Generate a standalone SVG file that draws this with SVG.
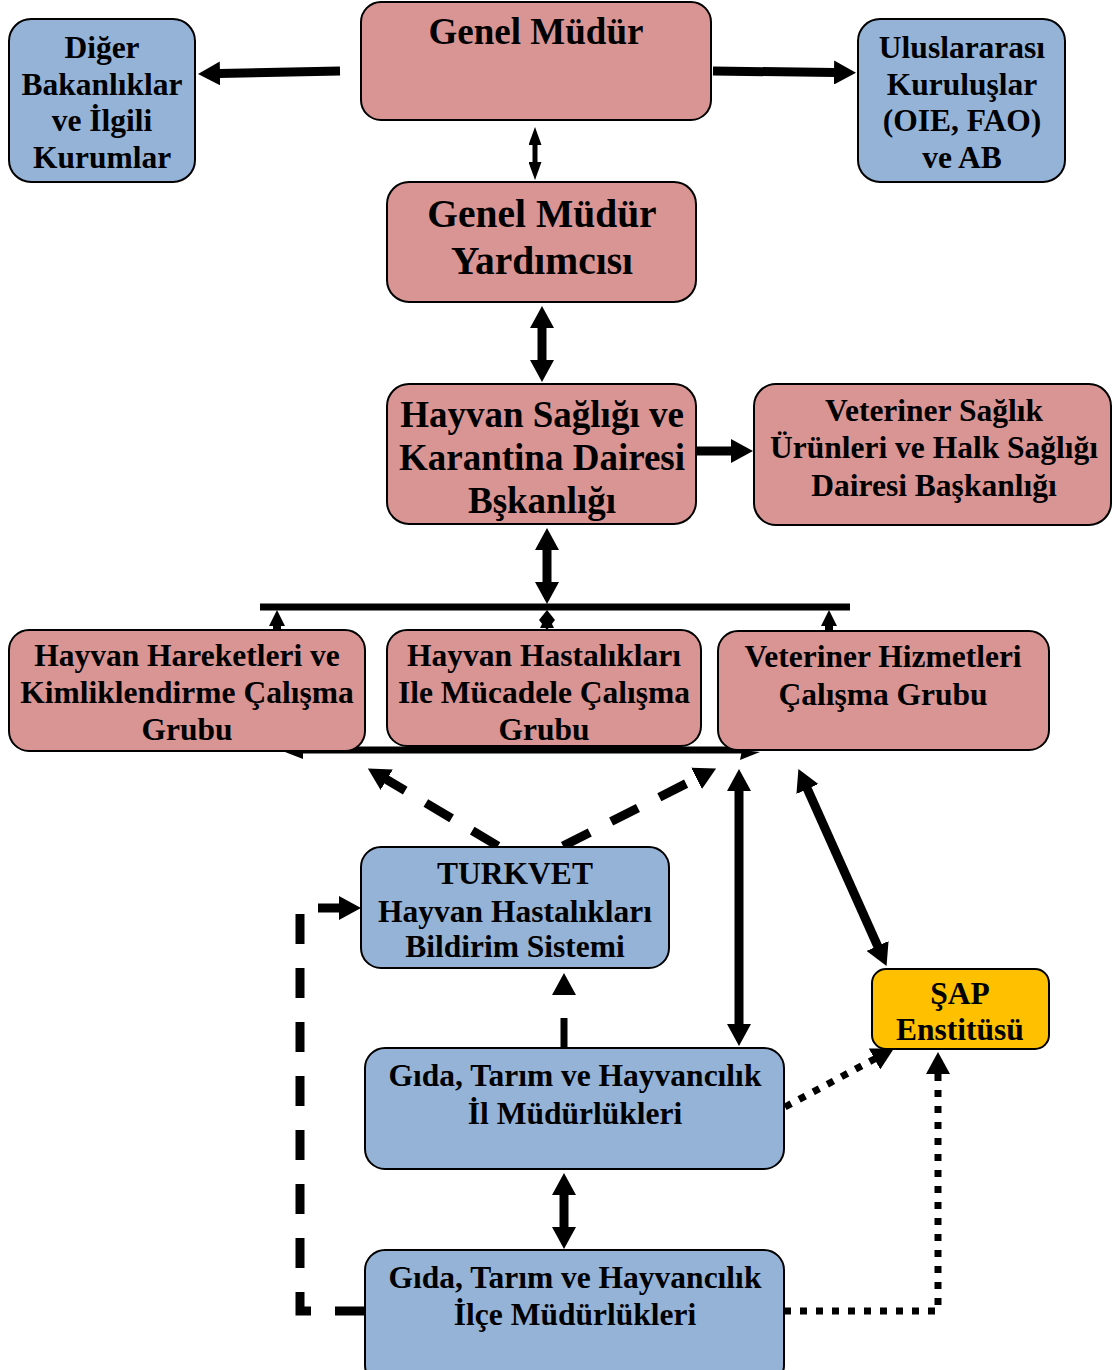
<svg xmlns="http://www.w3.org/2000/svg" width="1112" height="1370" viewBox="0 0 1112 1370">
<style>
.box{stroke:#000;stroke-width:2}
.pink{fill:#d99594}
.blue{fill:#95b3d7}
.yel{fill:#ffc000}
text{font-family:"Liberation Serif","Times New Roman",serif;font-weight:bold;fill:#000;text-anchor:middle}
.t31{font-size:31.5px}
.t37{font-size:37px}
.t39{font-size:39.5px}
.ln{stroke:#000;fill:none}
.w8{stroke-width:9}
.w7{stroke-width:7}
.dash{stroke-dasharray:30 24}
.dot{stroke-dasharray:7 9}
</style>
<defs>
<marker id="ah" markerUnits="userSpaceOnUse" viewBox="0 0 22 24" markerWidth="22" markerHeight="24" refX="1" refY="12" orient="auto-start-reverse">
<path d="M0,0 L22,12 L0,24 Z" fill="#000"/>
</marker>
<marker id="ahs" markerUnits="userSpaceOnUse" viewBox="0 0 18 13" markerWidth="18" markerHeight="13" refX="1" refY="6.5" orient="auto-start-reverse">
<path d="M0,0 L18,6.5 L0,13 Z" fill="#000"/>
</marker>
</defs>

<g id="connectors">
<line class="ln w8" x1="340" y1="71" x2="219" y2="73.5" marker-end="url(#ah)"/>
<line class="ln w8" x1="713" y1="71" x2="835" y2="72.5" marker-end="url(#ah)"/>
<line class="ln" stroke-width="5" x1="535" y1="144" x2="535" y2="163" marker-start="url(#ahs)" marker-end="url(#ahs)"/>
<line class="ln w8" x1="542" y1="327" x2="542" y2="361" marker-start="url(#ah)" marker-end="url(#ah)"/>
<line class="ln w8" x1="696" y1="451" x2="732" y2="451" marker-end="url(#ah)"/>
<line class="ln w8" x1="547" y1="549" x2="547" y2="583" marker-start="url(#ah)" marker-end="url(#ah)"/>
<line class="ln w7" x1="260" y1="607" x2="850" y2="607"/>
<polygon points="277,610 269,626 285,626" fill="#000"/>
<rect x="273" y="624" width="8" height="7" fill="#000"/>
<polygon points="829,610 821,626 837,626" fill="#000"/>
<rect x="825" y="624" width="8" height="7" fill="#000"/>
<polygon points="547,610 539,620 555,620" fill="#000"/>
<polygon points="539,620 555,620 547,630" fill="#000"/>
<polygon points="547,614 540,628 554,628" fill="#000"/>
<line class="ln w7" x1="295" y1="750" x2="745" y2="750"/>
<polygon points="285,752 303,750 303,759" fill="#000"/>
<polygon points="760,752 742,750 740,760" fill="#000"/>
<line class="ln w8 dash" x1="498" y1="846" x2="385.9" y2="779.2" marker-end="url(#ah)"/>
<line class="ln w8 dash" x1="563" y1="846" x2="697.4" y2="777.9" marker-end="url(#ah)"/>
<line class="ln w8" x1="739" y1="790" x2="739" y2="1025" marker-start="url(#ah)" marker-end="url(#ah)"/>
<line class="ln w8" x1="807" y1="788.1" x2="878" y2="946.9" marker-start="url(#ah)" marker-end="url(#ah)"/>
<line class="ln w7 dash" x1="564" y1="1048" x2="564" y2="994" marker-end="url(#ah)"/>
<path class="ln w8 dash" d="M365,1311 H300 V908 H340" marker-end="url(#ah)"/>
<line class="ln w7 dot" x1="785" y1="1107" x2="875.4" y2="1058.5" marker-end="url(#ah)"/>
<path class="ln w7 dot" d="M784,1311 H938 V1073" marker-end="url(#ah)"/>
<line class="ln w8" x1="564" y1="1194" x2="564" y2="1228" marker-start="url(#ah)" marker-end="url(#ah)"/>
</g>

<g id="genel-mudur">
<rect class="box pink" x="361" y="2" width="350" height="118" rx="20"/>
<text class="t37" x="536" y="44">Genel Müdür</text>
</g>
<g id="diger-bakanliklar">
<rect class="box blue" x="9" y="19" width="186" height="163" rx="22"/>
<text class="t31" x="102" y="58">Diğer</text>
<text class="t31" x="102" y="95">Bakanlıklar</text>
<text class="t31" x="102" y="131">ve İlgili</text>
<text class="t31" x="102" y="168">Kurumlar</text>
</g>
<g id="uluslararasi">
<rect class="box blue" x="858" y="19" width="207" height="163" rx="22"/>
<text class="t31" x="962" y="58">Uluslararası</text>
<text class="t31" x="962" y="95">Kuruluşlar</text>
<text class="t31" x="962" y="131">(OIE, FAO)</text>
<text class="t31" x="962" y="168">ve AB</text>
</g>
<g id="genel-mudur-yardimcisi">
<rect class="box pink" x="387" y="182" width="309" height="120" rx="22"/>
<text class="t39" x="542" y="227">Genel Müdür</text>
<text class="t39" x="542" y="274">Yardımcısı</text>
</g>
<g id="hayvan-sagligi">
<rect class="box pink" x="387" y="384" width="309" height="140" rx="22"/>
<text class="t37" x="542" y="427">Hayvan Sağlığı ve</text>
<text class="t37" x="542" y="470">Karantina Dairesi</text>
<text class="t37" x="542" y="513">Bşkanlığı</text>
</g>
<g id="veteriner-saglik">
<rect class="box pink" x="754" y="384" width="357" height="141" rx="22"/>
<text class="t31" x="934" y="421">Veteriner Sağlık</text>
<text class="t31" x="934" y="458">Ürünleri ve Halk Sağlığı</text>
<text class="t31" x="934" y="496">Dairesi Başkanlığı</text>
</g>
<g id="hayvan-hareketleri">
<rect class="box pink" x="9" y="630" width="356" height="121" rx="20"/>
<text class="t31" x="187" y="666">Hayvan Hareketleri ve</text>
<text class="t31" x="187" y="703">Kimliklendirme Çalışma</text>
<text class="t31" x="187" y="740">Grubu</text>
</g>
<g id="hayvan-hastaliklari">
<rect class="box pink" x="387" y="630" width="314" height="116" rx="20"/>
<text class="t31" x="544" y="666">Hayvan Hastalıkları</text>
<text class="t31" x="544" y="703">Ile Mücadele Çalışma</text>
<text class="t31" x="544" y="740">Grubu</text>
</g>
<g id="veteriner-hizmetleri">
<rect class="box pink" x="718" y="631" width="331" height="119" rx="20"/>
<text class="t31" x="883" y="667">Veteriner Hizmetleri</text>
<text class="t31" x="883" y="705">Çalışma Grubu</text>
</g>
<g id="turkvet">
<rect class="box blue" x="361" y="847" width="308" height="121" rx="20"/>
<text class="t31" x="515" y="884">TURKVET</text>
<text class="t31" x="515" y="922">Hayvan Hastalıkları</text>
<text class="t31" x="515" y="957">Bildirim Sistemi</text>
</g>
<g id="sap-enstitusu">
<rect class="box yel" x="872" y="969" width="177" height="80" rx="14"/>
<text class="t31" x="960" y="1004">ŞAP</text>
<text class="t31" x="960" y="1040">Enstitüsü</text>
</g>
<g id="il-mudurlukleri">
<rect class="box blue" x="365" y="1048" width="419" height="121" rx="20"/>
<text class="t31" x="575" y="1086">Gıda, Tarım ve Hayvancılık</text>
<text class="t31" x="575" y="1124">İl Müdürlükleri</text>
</g>
<g id="ilce-mudurlukleri">
<rect class="box blue" x="365" y="1250" width="419" height="135" rx="20"/>
<text class="t31" x="575" y="1288">Gıda, Tarım ve Hayvancılık</text>
<text class="t31" x="575" y="1325">İlçe Müdürlükleri</text>
</g>
</svg>
